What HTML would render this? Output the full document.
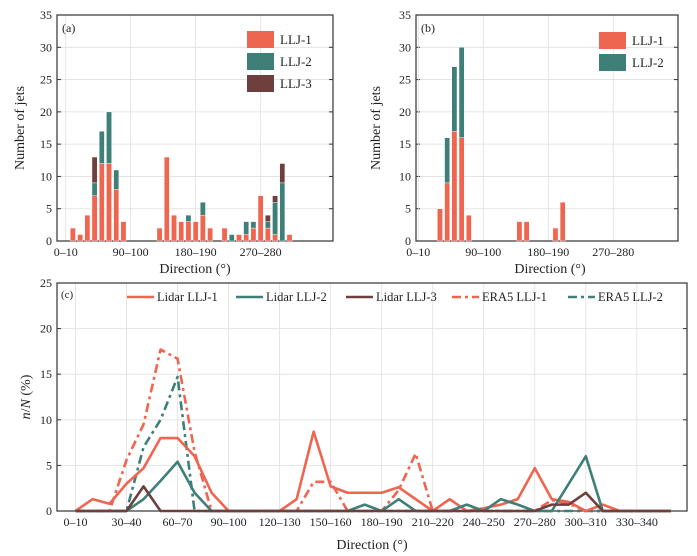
<!DOCTYPE html>
<html><head><meta charset="utf-8"><style>
body{margin:0;background:#fff}
svg{display:block;font-family:"Liberation Serif",serif}
</style></head><body>
<svg id="chart" width="697" height="556" viewBox="0 0 697 556"></svg>
<script>
// Panel (a) data
const aDirs=[10,20,30,40,50,60,70,80,130,140,150,160,170,180,190,200,220,230,240,250,260,270,280,290,300,310];
const aLLJ1=[2,1,4,7,12,12,8,3,2,13,4,3,3,3,4,2,2,0,1,1,2,7,2,1,0,1];
const aLLJ2=[0,0,0,2,5,8,3,0,0,0,0,0,1,0,2,0,0,1,0,2,1,0,1,5,9,0];
const aLLJ3=[0,0,0,4,0,0,0,0,0,0,0,0,0,0,0,0,0,0,0,0,0,0,1,1,3,0];
// Panel (b) data
const bDirs=[30,40,50,60,70,140,150,190,200];
const bLLJ1=[5,9,17,16,4,3,3,2,6];
const bLLJ2=[0,7,10,14,0,0,0,0,0];
// Panel (c) data
const cDirs=[0,10,20,30,40,50,60,70,80,90,100,110,120,130,140,150,160,170,180,190,200,210,220,230,240,250,260,270,280,290,300,310,320,330,340,350];
const lidar1=[0,1.3,0.8,3,4.7,8,8,6,2,0,0,0,0,1.3,8.7,2.7,2,2,2,2.6,1.3,0,1.3,0,0.3,0.7,1.3,4.7,1.3,1,0,0.7,0,0,0,0];
const lidar2=[0,0,0,0,1.3,3.3,5.4,2,0,0,0,0,0,0,0,0,0,0.7,0,1.3,0,0,0,0.7,0,1.3,0.7,0,0,3,6,0,0,0,0,0];
const lidar3=[0,0,0,0,2.7,0,0,0,0,0,0,0,0,0,0,0,0,0,0,0,0,0,0,0,0,0,0,0,0.7,0.7,2,0,0,0,0,0];
const era1=[0,0,0,5.6,9.5,17.7,16.7,6.5,0,0,0,0,0,0,3.2,3.2,0,0,0,2.3,6.3,0,0,0,0,0,0,0,1.2,0.8,0,0,0,0,0,0];
const era2=[0,0,0,0,7,10,14.7,0,0,0,0,0,0,0,0,0,0,0,0,0,0,0,0,0,0,0,0,0,0,0,0,0,0,0,0,0];
const yTicksAB=[0,5,10,15,20,25,30,35];
const yTicksC=[0,5,10,15,20,25];
const xTicksAB=[0,90,180,270];
const xTicksC=[0,30,60,90,120,150,180,210,240,270,300,330];

const RED="#EE6550",TEAL="#3E8078",BROWN="#6E3F3D",GRID="#e2dede",AX="#333";
const svg=document.getElementById('chart');
const NS="http://www.w3.org/2000/svg";
function mk(tag,attrs,parent){const e=document.createElementNS(NS,tag);for(const k in attrs)e.setAttribute(k,attrs[k]);(parent||svg).appendChild(e);return e;}
function lab(d){return d+"\u2013"+(d+10);}

function panel(name,L,R,T,B,x,y,yt,xt){
  const g=mk('g',{});
  
  
  yt.forEach(v=>{
    if(v>0&&v<yt[yt.length-1]){const l=mk('line',{x1:L,x2:R,y1:y(v),y2:y(v),stroke:GRID,'stroke-width':0.8},g);
    }
    const t=mk('text',{x:L-5,y:y(v)+4,'text-anchor':'end','font-size':12,fill:'#222'},g);t.textContent=v;
    
    mk('line',{x1:L,x2:L+4,y1:y(v),y2:y(v),stroke:AX},g);mk('line',{x1:R,x2:R-4,y1:y(v),y2:y(v),stroke:AX},g);
  });
  xt.forEach(d=>{
    if(x(d)>L+2){const l=mk('line',{x1:x(d),x2:x(d),y1:T,y2:B,stroke:GRID,'stroke-width':0.8},g);
    }
    const t=mk('text',{x:x(d),y:B+15,'text-anchor':'middle','font-size':12,fill:'#222'},g);t.textContent=lab(d);
    
  });
  const f=mk('rect',{x:L,y:T,width:R-L,height:B-T,fill:'none',stroke:AX,'stroke-width':1.2},g);
  
  return g;
}
function bar(g,x,y0,y1,c){const r=mk('rect',{x:x-2.6,y:y1,width:5.2,height:Math.max(0,y0-y1),fill:c,stroke:'#fff','stroke-width':0.4},g);
  }
function legBox(g,x,y,c,txt){const r=mk('rect',{x:x,y:y,width:27,height:17,fill:c},g);
  
  const t=mk('text',{x:x+33,y:y+13,'font-size':13,fill:'#222'},g);t.textContent=txt;
  }
function txt(s,attrs,name){const t=mk('text',attrs);t.textContent=s;return t;}

// Panel a
const xa=d=>65.7+d*0.722, ya=v=>241-v*6.457;
const ga=panel('panel-a',57,333,15,241,xa,ya,yTicksAB,xTicksAB);
aDirs.forEach((d,i)=>{const r=aLLJ1[i],t=r+aLLJ2[i],b=t+aLLJ3[i];
  if(r>0)bar(ga,xa(d),ya(0),ya(r),RED); if(aLLJ2[i]>0)bar(ga,xa(d),ya(r),ya(t),TEAL); if(aLLJ3[i]>0)bar(ga,xa(d),ya(t),ya(b),BROWN);});
legBox(ga,247,31,RED,'LLJ-1');legBox(ga,247,53,TEAL,'LLJ-2');legBox(ga,247,75,BROWN,'LLJ-3');
txt('(a)',{x:62,y:32,'font-size':12,fill:'#222'},'panel-a-label');
txt('Number of jets',{x:0,y:0,'font-size':14,fill:'#222','text-anchor':'middle',transform:'translate(24,128) rotate(-90)'},'y-axis-title-a');
txt('Direction (°)',{x:195,y:273,'font-size':14,fill:'#222','text-anchor':'middle'},'x-axis-title-a');

// Panel b
const xb=d=>418.3+d*0.722, yb=v=>241-v*6.457;
const gb=panel('panel-b',416,678,15,241,xb,yb,yTicksAB,xTicksAB);
bDirs.forEach((d,i)=>{const r=bLLJ1[i],t=r+bLLJ2[i];
  if(r>0)bar(gb,xb(d),yb(0),yb(r),RED); if(bLLJ2[i]>0)bar(gb,xb(d),yb(r),yb(t),TEAL);});
legBox(gb,599,32,RED,'LLJ-1');legBox(gb,599,54,TEAL,'LLJ-2');
txt('(b)',{x:421,y:32,'font-size':12,fill:'#222'},'panel-b-label');
txt('Number of jets',{x:0,y:0,'font-size':14,fill:'#222','text-anchor':'middle',transform:'translate(380,128) rotate(-90)'},'y-axis-title-b');
txt('Direction (°)',{x:550,y:273,'font-size':14,fill:'#222','text-anchor':'middle'},'x-axis-title-b');

// Panel c
const xc=d=>75.5+d*1.701, yc=v=>511-v*9.12;
const gc=panel('panel-c',57,687,283,511,xc,yc,yTicksC,xTicksC);
function line(vals,c,dash,name){const p=mk('polyline',{points:cDirs.map((d,i)=>xc(d)+','+yc(vals[i])).join(' '),fill:'none',stroke:c,'stroke-width':2.6,'stroke-dasharray':dash,'stroke-linejoin':'round'},gc);
  }
line(era1,RED,'9,4,3,4','series-era5-llj1');
line(era2,TEAL,'9,4,3,4','series-era5-llj2');
line(lidar1,RED,'none','series-lidar-llj1');
line(lidar2,TEAL,'none','series-lidar-llj2');
line(lidar3,BROWN,'none','series-lidar-llj3');
const leg=[[127,RED,'none','Lidar LLJ-1'],[236,TEAL,'none','Lidar LLJ-2'],[346,BROWN,'none','Lidar LLJ-3'],[452,RED,'9,4,3,4','ERA5 LLJ-1'],[568,TEAL,'9,4,3,4','ERA5 LLJ-2']];
leg.forEach(e=>{const l=mk('line',{x1:e[0],x2:e[0]+27,y1:297,y2:297,stroke:e[1],'stroke-width':2.6,'stroke-dasharray':e[2]},gc);
  
  const t=mk('text',{x:e[0]+30,y:301,'font-size':12.5,fill:'#222'},gc);t.textContent=e[3];
  });
txt('(c)',{x:61,y:298,'font-size':11,fill:'#222'},'panel-c-label');
const yt=txt('',{x:0,y:0,'font-size':14,fill:'#222','text-anchor':'middle',transform:'translate(30,397) rotate(-90)'},'y-axis-title-c');
yt.innerHTML='<tspan font-style="italic">n</tspan>/<tspan font-style="italic">N</tspan> (%)';
txt('Direction (°)',{x:372,y:549,'font-size':14,fill:'#222','text-anchor':'middle'},'x-axis-title-c');
</script>
</body></html>
